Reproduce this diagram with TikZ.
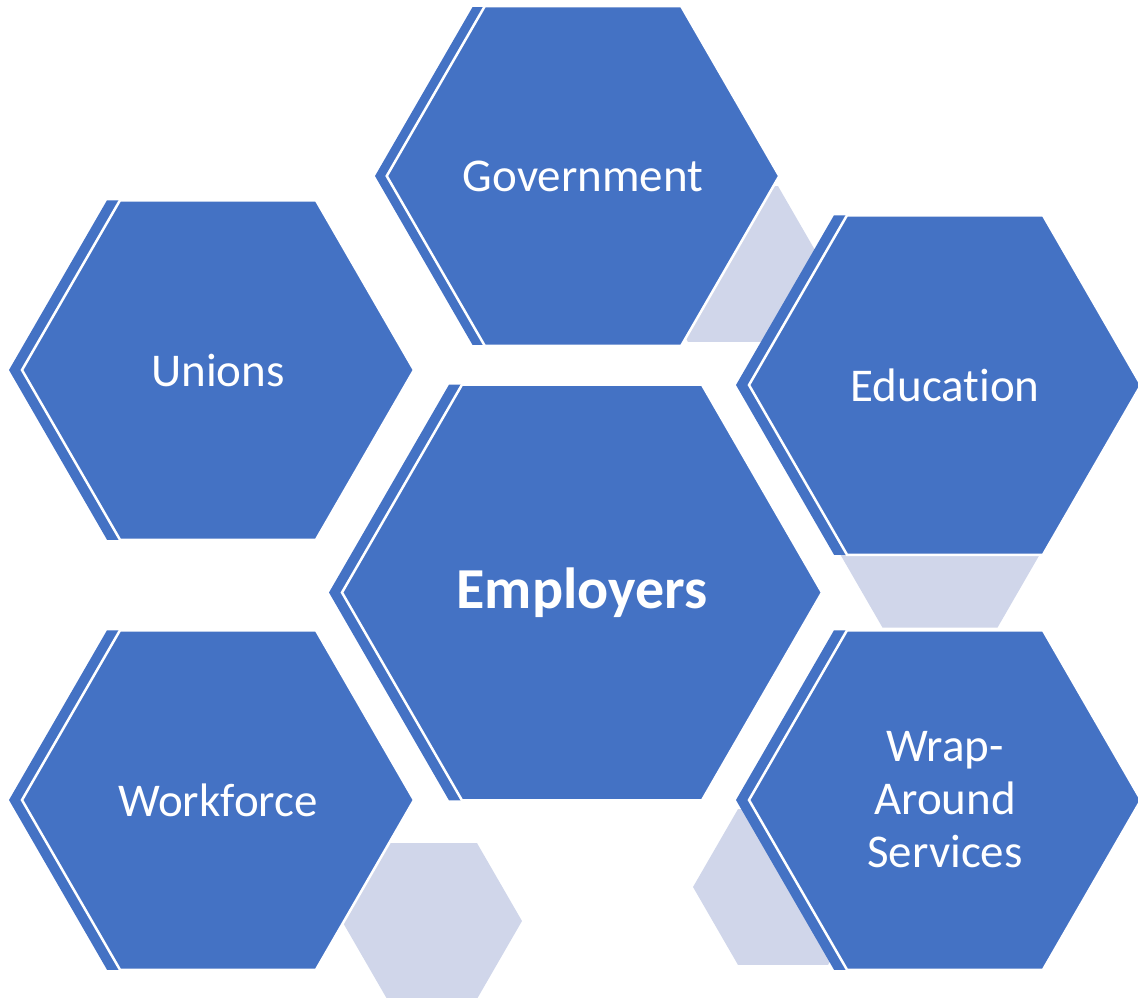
\documentclass[tikz,border=0pt]{standalone}
\usepackage{fontspec}
\setmainfont{Carlito}[Ligatures={NoCommon}]
\usetikzlibrary{shapes.geometric}
\definecolor{cellblue}{HTML}{4472C4}
\definecolor{accentgrey}{HTML}{D0D6EA}
\tikzset{
    cell/.style={
           regular polygon,
           regular polygon sides=6,
           fill=cellblue, draw=white, line width=2.5pt,
           inner sep=0pt,
           text=white,
           align=center,
           font=\fontsize{47}{53}\selectfont
           },
    cellback/.style={
           regular polygon,
           regular polygon sides=6,
           fill=cellblue,
           inner sep=0pt
           },
    accent/.style={
           regular polygon,
           regular polygon sides=6,
           fill=accentgrey,
           inner sep=0pt
           },
}

\begin{document}
\begin{tikzpicture}[x=1pt,y=-1pt]
    \useasboundingbox (0,0) rectangle (1138,997);

%   light accents, behind everything
    \node[accent, minimum size=180] (ACCA) at (733,264) {};
    \node[accent, minimum size=230] (ACCB) at (940,528) {};
    \node[accent, minimum size=180] (ACCC) at (432,921) {};
    \node[accent, minimum size=180] (ACCD) at (783,887) {};

%   outer cells
    \node[cellback, minimum size=392] (UNIb) at (205,370) {};
    \node[cell, minimum size=392] (UNI) at (218,370) {Unions};

    \node[cellback, minimum size=390] (GOVb) at (570,176) {};
    \node[cell, minimum size=390] (GOV) at (583,176) {Government};

    \node[cellback, minimum size=392] (EDUb) at (932,385) {};
    \node[cell, minimum size=392] (EDU) at (945,385) {Education};

    \node[cellback, minimum size=392] (WORKb) at (205,800) {};
    \node[cell, minimum size=392] (WORK) at (218,800) {Workforce};

    \node[cellback, minimum size=392] (WRAPb) at (932,800) {};
    \node[cell, minimum size=392] (WRAP) at (945,800)
         {Wrap-\\Around\\Services};

%   centre cell
    \node[cellback, minimum size=480] (EMPb) at (569,592.5) {};
    \node[cell, minimum size=480,
          font=\bfseries\fontsize{58}{62}\selectfont] (EMP) at (582,592.5)
         {Employers};

\end{tikzpicture}
\end{document}
